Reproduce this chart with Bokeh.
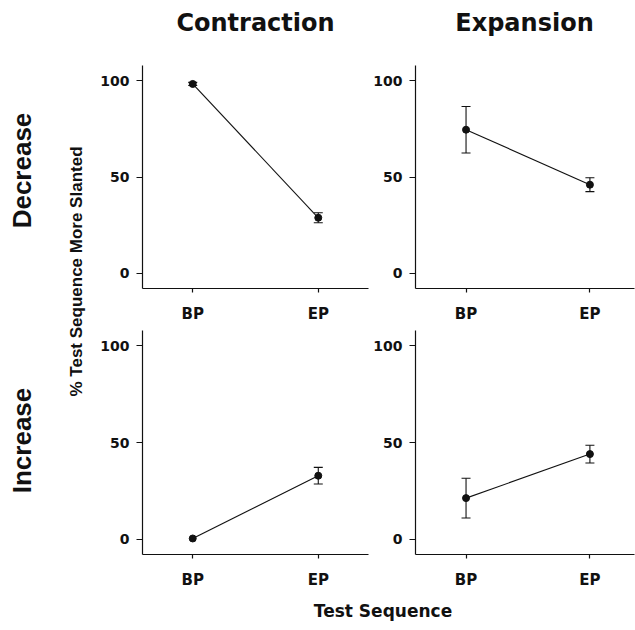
import math
from bokeh.plotting import figure
from bokeh.models import Range1d, ColumnDataSource, Whisker, TeeHead, Label, FixedTicker
from bokeh.layouts import row, column
from bokeh.embed import file_html
from bokeh.resources import INLINE

# ---------------- data ----------------
positions = [0, 1]
seq_labels = ["BP", "EP"]
col_titles = ["Contraction", "Expansion"]
row_titles = ["Decrease", "Increase"]
y_ticks = [0, 50, 100]
y_title = "% Test Sequence More Slanted"
x_title = "Test Sequence"

contraction_decrease = [98.4, 28.8]
contraction_decrease_err = [0.8, 2.6]
expansion_decrease = [74.6, 46.0]
expansion_decrease_err = [12.1, 3.6]
contraction_increase = [0.3, 32.8]
contraction_increase_err = [0.0, 4.3]
expansion_increase = [21.2, 44.0]
expansion_increase_err = [10.3, 4.6]

# ---------------- layout constants ----------------
LEFT_W = 97
TL_W, TR_W = 273, 265
TOP_H = 50
ROW1_H, ROW2_H = 275, 266
BOT_H = 39
FONT = "DejaVu Sans"


def panel(mean, err, width, height, bl, br, bt, bb, xr):
    p = figure(width=width, height=height, x_range=Range1d(*xr), y_range=Range1d(-8, 108),
               output_backend="svg", toolbar_location=None, title=None,
               min_border_left=bl, min_border_right=br, min_border_top=bt, min_border_bottom=bb,
               background_fill_color="white", border_fill_color="white")
    p.outline_line_color = None
    p.grid.visible = False
    p.xaxis.ticker = FixedTicker(ticks=positions)
    p.xaxis.major_label_overrides = {pos: lab for pos, lab in zip(positions, seq_labels)}
    p.yaxis.ticker = FixedTicker(ticks=y_ticks)
    for ax in p.axis:
        ax.axis_line_color = "#111111"
        ax.axis_line_width = 1.2
        ax.major_tick_line_color = "#111111"
        ax.major_tick_line_width = 1.2
        ax.major_tick_in = 0
        ax.minor_tick_line_color = None
        ax.major_label_text_font = FONT
        ax.major_label_text_font_style = "bold"
        ax.major_label_text_color = "#111111"
    p.xaxis.major_tick_out = 4
    p.xaxis.major_label_standoff = 12
    p.xaxis.major_label_text_font_size = "15px"
    p.yaxis.major_tick_out = 6
    p.yaxis.major_label_standoff = 7
    p.yaxis.major_label_text_font_size = "14px"

    src = ColumnDataSource(dict(x=positions, y=mean))
    p.line("x", "y", source=src, line_color="#111111", line_width=1.1)
    wsrc = ColumnDataSource(dict(x=[x for x, e in zip(positions, err) if e > 0],
                                 upper=[m + e for m, e in zip(mean, err) if e > 0],
                                 lower=[m - e for m, e in zip(mean, err) if e > 0]))
    w = Whisker(base="x", upper="upper", lower="lower", source=wsrc,
                line_color="#111111", line_width=1.1,
                upper_head=TeeHead(size=9, line_color="#111111", line_width=1.1),
                lower_head=TeeHead(size=9, line_color="#111111", line_width=1.1))
    p.add_layout(w)
    p.scatter("x", "y", source=src, size=7, fill_color="#111111", line_color="#111111")
    return p


def text_canvas(width, height):
    p = figure(width=width, height=height, x_range=Range1d(0, width), y_range=Range1d(0, height),
               output_backend="svg", toolbar_location=None, min_border=0, title=None,
               background_fill_color="white", border_fill_color="white")
    p.outline_line_color = None
    p.axis.visible = False
    p.grid.visible = False
    return p


XR_L = (-0.4, 1.4)
XR_R = (-0.408, 1.36)

tl = panel(contraction_decrease, contraction_decrease_err, TL_W, ROW1_H, 45, 2, 15, 36, XR_L)
tr = panel(expansion_decrease, expansion_decrease_err, TR_W, ROW1_H, 43, 1, 15, 36, XR_R)
bl = panel(contraction_increase, contraction_increase_err, TL_W, ROW2_H, 45, 2, 5, 36, XR_L)
br = panel(expansion_increase, expansion_increase_err, TR_W, ROW2_H, 43, 1, 5, 36, XR_R)

# column titles
top = text_canvas(TL_W + TR_W, TOP_H)
for cx, t in zip([158, 427], col_titles):
    top.add_layout(Label(x=cx, y=28, text=t, text_align="center", text_baseline="alphabetic",
                         text_font=FONT, text_font_style="bold", text_font_size="24px",
                         text_color="#111111"))

# x axis title
bottom = text_canvas(TL_W + TR_W, BOT_H)
bottom.add_layout(Label(x=285.5, y=20, text=x_title, text_align="center", text_baseline="alphabetic",
                        text_font=FONT, text_font_style="bold", text_font_size="17px",
                        text_color="#111111"))

# row labels and y axis title
left_h = TOP_H + ROW1_H + ROW2_H + BOT_H
left = text_canvas(LEFT_W, left_h)
for cy, t in zip([460, 190], row_titles):
    left.add_layout(Label(x=21.5, y=cy, text=t, angle=math.pi / 2, text_align="center",
                          text_baseline="middle", text_font="Liberation Sans", text_font_style="bold",
                          text_font_size="26px", text_color="#111111"))
left.add_layout(Label(x=76, y=359, text=y_title, angle=math.pi / 2, text_align="center",
                      text_baseline="middle", text_font="Liberation Sans", text_font_style="bold",
                      text_font_size="17px", text_color="#111111"))

layout = row(left, column(top, row(tl, tr), row(bl, br), bottom))

open("out.html", "w").write(file_html(layout, INLINE, title="plot"))
